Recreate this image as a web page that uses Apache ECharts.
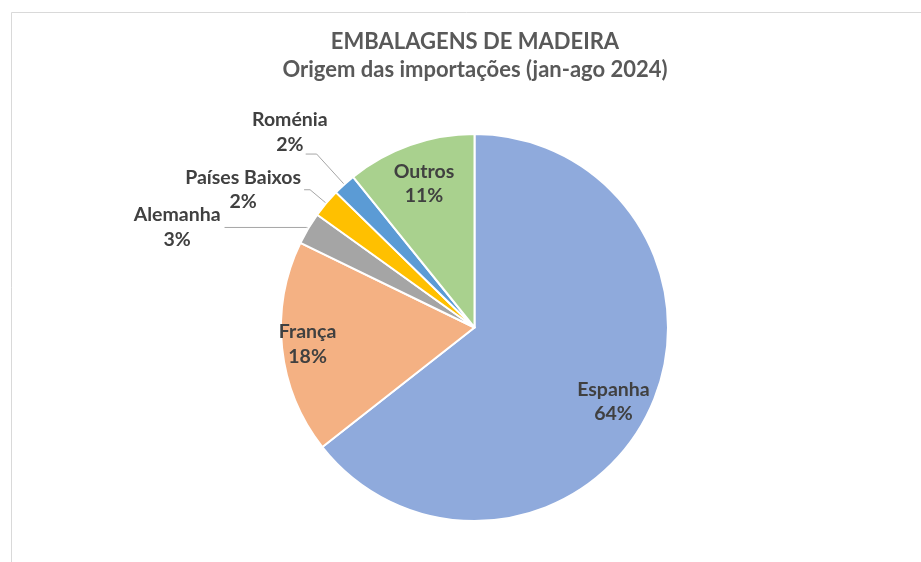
<!DOCTYPE html>
<html>
<head>
<meta charset="utf-8">
<script src="https://cdn.jsdelivr.net/npm/echarts@6/dist/echarts.min.js"></script>
<style>
html,body{margin:0;padding:0;background:#fff;}
#chart{width:921px;height:562px;}
</style>
</head>
<body>
<div id="chart"></div>
<script>
const categories = ['Espanha', 'França', 'Alemanha', 'Países Baixos', 'Roménia', 'Outros'];
const values = [64.4, 17.8, 2.7, 2.4, 1.9, 10.8];
const colors = ['#8FAADC', '#F4B183', '#A5A5A5', '#FFC000', '#5B9BD5', '#A9D18E'];
const titleLines = ['EMBALAGENS DE MADEIRA', 'Origem das importações (jan-ago 2024)'];

const FONT = 'Lato';
const CX = 474.5, CY = 327.5, R = 193.5;

const innerIdx = [0, 1, 5];
const outerCfg = {
  2: { length: 2, length2: 82, dist: 4, padding: [0, 0, 0, 0] },
  3: { length: 21, length2: 6, dist: 3, padding: [0, 0, 0, 0] },
  4: { length: 41, length2: 11, dist: -22, padding: [0, 0, 44, 0] }
};

const rich = { n: { fontFamily: FONT, fontWeight: 'bold', fontSize: 19.5, color: '#404040', align: 'center', lineHeight: 24.5 } };

const mainData = categories.map((c, i) => {
  const o = outerCfg[i];
  return {
    name: c,
    value: values[i],
    itemStyle: { color: colors[i] },
    label: o ? { show: true, position: 'outside', distanceToLabelLine: o.dist, padding: o.padding } : { show: false },
    labelLine: o ? { show: true, length: o.length, length2: o.length2 } : { show: false }
  };
});

const labelData = categories.map((c, i) => ({
  name: c,
  value: values[i],
  label: { show: innerIdx.includes(i) }
}));

const chart = echarts.init(document.getElementById('chart'), null, { renderer: 'canvas' });
chart.setOption({
  animation: false,
  backgroundColor: '#ffffff',
  graphic: [
    { type: 'rect', shape: { x: 11.5, y: 12.5, width: 1000, height: 1000 }, style: { fill: 'none', stroke: '#d9d9d9', lineWidth: 1 }, silent: true, z: -10 },
    { type: 'text', x: 475, y: 42, style: { text: titleLines[0], fontFamily: FONT, fontWeight: 'bold', fontSize: 22, fill: '#595959', align: 'center', verticalAlign: 'middle' } },
    { type: 'text', x: 475, y: 70, style: { text: titleLines[1], fontFamily: FONT, fontWeight: 'bold', fontSize: 22, fill: '#595959', align: 'center', verticalAlign: 'middle' } }
  ],
  series: [
    {
      type: 'pie',
      center: [CX, CY],
      radius: [0, R],
      startAngle: 90,
      clockwise: true,
      avoidLabelOverlap: false,
      percentPrecision: 0,
      silent: true,
      itemStyle: { borderColor: '#ffffff', borderWidth: 2 },
      label: { formatter: '{n|{b}}\n{n|{d}%}', rich: rich },
      labelLine: { lineStyle: { color: '#a6a6a6', width: 1 }, smooth: false },
      labelLayout: { hideOverlap: false },
      emphasis: { disabled: true },
      data: mainData
    },
    {
      type: 'pie',
      center: [CX, CY],
      radius: [R * 0.6, R],
      startAngle: 90,
      clockwise: true,
      avoidLabelOverlap: false,
      percentPrecision: 0,
      silent: true,
      itemStyle: { color: 'rgba(0,0,0,0)', borderWidth: 0 },
      label: { show: false, position: 'inside', formatter: '{n|{b}}\n{n|{d}%}', rich: rich },
      labelLine: { show: false },
      labelLayout: function (p) { return p.dataIndex === 1 ? { dx: -10, hideOverlap: false } : (p.dataIndex === 0 ? { dx: -3, dy: 5, hideOverlap: false } : { dx: 2, dy: 5, hideOverlap: false }); },
      emphasis: { disabled: true },
      data: labelData
    }
  ]
});
</script>
</body>
</html>
